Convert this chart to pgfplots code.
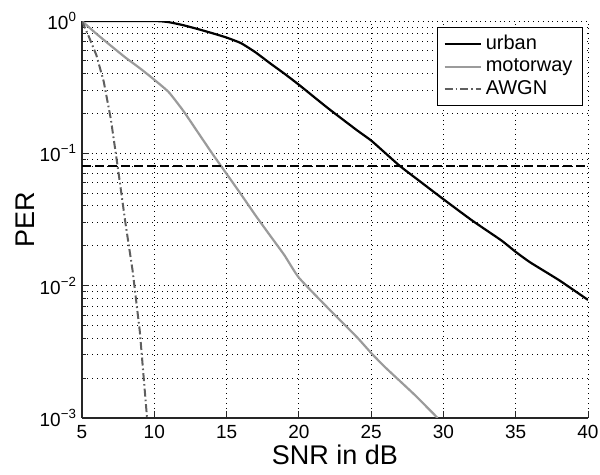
\documentclass[border=0pt]{standalone}
\usepackage{fontspec}
\setmainfont{Liberation Sans}
\usepackage{pgfplots}
\pgfplotsset{compat=1.18}
\definecolor{mwgray}{RGB}{155,155,155}
\definecolor{awgray}{RGB}{95,95,95}
\begin{document}
\begin{tikzpicture}
\begin{axis}[
 scale only axis, width=253pt, height=198.5pt,
 ymode=log, xmin=5, xmax=40, ymin=1e-3, ymax=1,
 xtick={5,10,...,40},
 ytick={1e-3,1e-2,1e-1,1},
 yticklabels={10\textsuperscript{−3},10\textsuperscript{−2},10\textsuperscript{−1},10\textsuperscript{0}},
 minor ytick={2e-3,3e-3,4e-3,5e-3,6e-3,7e-3,8e-3,9e-3,2e-2,3e-2,4e-2,5e-2,6e-2,7e-2,8e-2,9e-2,2e-1,3e-1,4e-1,5e-1,6e-1,7e-1,8e-1,9e-1},
 axis x line*=bottom, axis y line*=left,
 axis line style={-, black!85, line width=0.6pt},
 tick style={black!85, line width=0.5pt},
 tick align=inside,
 major tick length=3.5pt, minor tick length=2pt,
 xmajorgrids, ymajorgrids, yminorgrids,
 grid style={black, dotted, line width=0.5pt},
 minor grid style={black, dotted, line width=0.5pt},
 ticklabel style={font=\fontsize{9.5}{11}\selectfont},
 yticklabel style={xshift=1pt},
 /pgf/number format/assume math mode=true,
 xlabel={SNR in dB}, ylabel={PER},
 label style={font=\fontsize{13.5}{15}\selectfont},
 xlabel style={at={(axis description cs:0.5,-0.0932)}, anchor=center},
 ylabel style={at={(axis description cs:-0.1126,0.5)}, anchor=center},
 legend style={at={(axis description cs:0.990,0.985)}, anchor=north east, draw=black, line width=0.5pt, fill=white, font=\fontsize{10}{12}\selectfont, inner xsep=3pt, inner ysep=2pt, row sep=-1pt},
 legend cell align=left,
 legend image code/.code={\draw[#1] plot coordinates {(0pt,0pt) (9pt,0pt) (18pt,0pt)};},
]
\coordinate (sw) at (rel axis cs:0,0);
\coordinate (ne) at (rel axis cs:1,1);
\addplot[black, line width=1.1pt, mark=none, smooth, tension=0.3] coordinates {
(5,1) (10,1) (11,0.98) (12,0.93) (13,0.87) (14,0.81) (15,0.75) (16,0.68) (17,0.58) (18,0.48) (19,0.40) (20,0.33) (22,0.22) (24,0.15) (25,0.125) (26,0.1) (27,0.08) (28,0.066) (30,0.045) (32,0.031) (34,0.022) (35,0.018) (36,0.015) (38,0.011) (40,0.0078)};
\addlegendentry{urban}
\addplot[mwgray, line width=1.1pt, mark=none, smooth, tension=0.3] coordinates {
(5,1) (6,0.8) (7,0.65) (8,0.53) (9,0.44) (10,0.36) (11,0.29) (12,0.21) (13,0.145) (14,0.1) (15,0.07) (16,0.049) (17,0.034) (18,0.024) (19,0.017) (20,0.0115) (22,0.0068) (24,0.0041) (25,0.0031) (26,0.0024) (28,0.0015) (29.6,0.001)};
\addlegendentry{motorway}
\addplot[awgray, line width=1pt, mark=none, dash pattern=on 4pt off 1.5pt on 0.8pt off 1.5pt] coordinates {
(5,1) (5.5,0.75) (6,0.55) (6.5,0.35) (7,0.18) (7.5,0.075) (8,0.03) (8.5,0.013) (9,0.0045) (9.5,0.001)};
\addlegendentry{AWGN}
\addplot[black, line width=1.3pt, mark=none, dash pattern=on 4.5pt off 2pt, forget plot] coordinates {(5,0.08) (40,0.08)};
\end{axis}
\pgfresetboundingbox
\path ([shift={(-41pt,-28.5pt)}]sw) rectangle ([shift={(6pt,10.5pt)}]ne);
\end{tikzpicture}
\end{document}
